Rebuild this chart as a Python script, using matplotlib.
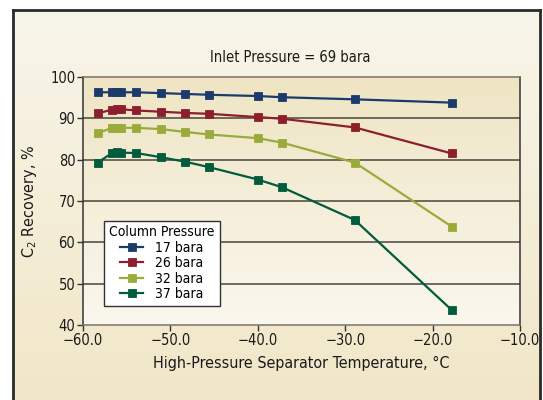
import matplotlib
matplotlib.use("Agg")
import matplotlib.pyplot as plt
import numpy as np

plt.rcParams['font.family'] = ['DejaVu Sans']
plt.rcParams['font.stretch'] = 'condensed'
plt.rcParams['mathtext.fontset'] = 'custom'
plt.rcParams['mathtext.rm'] = 'DejaVu Sans:stretch=condensed'

# Data (separator temperature, degC)
temp = [-58.3, -56.7, -56.1, -55.6, -53.9, -51.1, -48.3, -45.6, -40.0, -37.2, -28.9, -17.8]
rec_17 = [96.3, 96.3, 96.4, 96.3, 96.3, 96.1, 95.9, 95.7, 95.4, 95.1, 94.6, 93.8]
rec_26 = [91.2, 92.1, 92.3, 92.2, 91.9, 91.6, 91.3, 91.1, 90.3, 89.9, 87.8, 81.5]
rec_32 = [86.4, 87.7, 87.7, 87.7, 87.7, 87.4, 86.7, 86.1, 85.2, 84.1, 79.3, 63.8]
rec_37 = [79.3, 81.6, 81.8, 81.7, 81.6, 80.6, 79.5, 78.2, 75.2, 73.3, 65.4, 43.6]
series = [rec_17, rec_26, rec_32, rec_37]
labels = ['17 bara', '26 bara', '32 bara', '37 bara']
colors = ['#1d3a6d', '#8c1f2b', '#9bab3b', '#005c3d']

xticks = [-60, -50, -40, -30, -20, -10]
xticklabels = ['\u221260.0', '\u221250.0', '\u221240.0', '\u221230.0', '\u221220.0', '\u221210.0']
yticks = [40, 50, 60, 70, 80, 90, 100]

W, H = 543, 400
fig = plt.figure(figsize=(W / 100, H / 100), dpi=100)
fig.patch.set_facecolor('white')

# outer cream panel with dark border
bg = fig.add_axes([13 / W, -0.03, (540 - 13) / W, (400 - 10) / H + 0.03], zorder=-2)
grad = np.linspace(0, 1, 256).reshape(-1, 1)
c_top = np.array([0xf8, 0xf5, 0xea]) / 255
c_bot = np.array([0xf1, 0xe6, 0xc6]) / 255
img = c_top + (c_bot - c_top) * grad[..., None]
bg.imshow(img, aspect='auto', extent=[0, 1, 0, 1])
bg.set_xticks([])
bg.set_yticks([])
for s in bg.spines.values():
    s.set_color('#2a2a2a')
    s.set_linewidth(2.0)

ax = fig.add_axes([83 / W, (400 - 325) / H, (520 - 83) / W, (325 - 77) / H])
p_top = np.array([0xef, 0xe5, 0xc4]) / 255
p_bot = np.array([0xfa, 0xf7, 0xee]) / 255
pimg = p_top + (p_bot - p_top) * grad[..., None]
ax.imshow(pimg, aspect='auto', extent=[-60, -10, 40, 100], zorder=0)

for yy in [50, 60, 70, 80, 90]:
    ax.axhline(yy, color='#4a453e', lw=1.1, zorder=1)

for ys, lab, c in zip(series, labels, colors):
    ax.plot(temp, ys, color=c, lw=1.6, marker='s', markersize=6,
            markeredgecolor=c, markeredgewidth=0.6, label=lab, zorder=3)

ax.set_xlim(-60, -10)
ax.set_ylim(40, 100)
ax.set_xticks(xticks)
ax.set_xticklabels(xticklabels)
ax.set_yticks(yticks)
ax.tick_params(axis='both', direction='out', length=4, width=1, color='#333333',
               labelsize=10.5, pad=1.5, labelcolor='#1a1a1a')

ax.spines['left'].set_color('#333333')
ax.spines['bottom'].set_color('#7a7266')
ax.spines['top'].set_color('#7a7266')
ax.spines['right'].set_color('#333333')
for s in ax.spines.values():
    s.set_linewidth(1.1)

ax.set_title('Inlet Pressure = 69 bara', fontsize=10.5, color='#1a1a1a', pad=11, x=0.474)
ax.set_xlabel('High-Pressure Separator Temperature, \u00b0C', fontsize=11.5, color='#1a1a1a', labelpad=6)
ax.set_ylabel('C$_2$ Recovery, %', fontsize=11.5, color='#1a1a1a', labelpad=8)

leg = ax.legend(title='Column Pressure', loc='lower left', bbox_to_anchor=(0.049, 0.077),
                borderaxespad=0, fontsize=10, title_fontsize=10, frameon=True,
                fancybox=False, framealpha=1, edgecolor='#333333',
                handlelength=1.6, labelspacing=0.1, handletextpad=0.9,
                borderpad=0.35, markerscale=1.0)
leg.get_frame().set_linewidth(1.0)
leg.set_zorder(5)

fig.savefig('out.png', dpi=100)
